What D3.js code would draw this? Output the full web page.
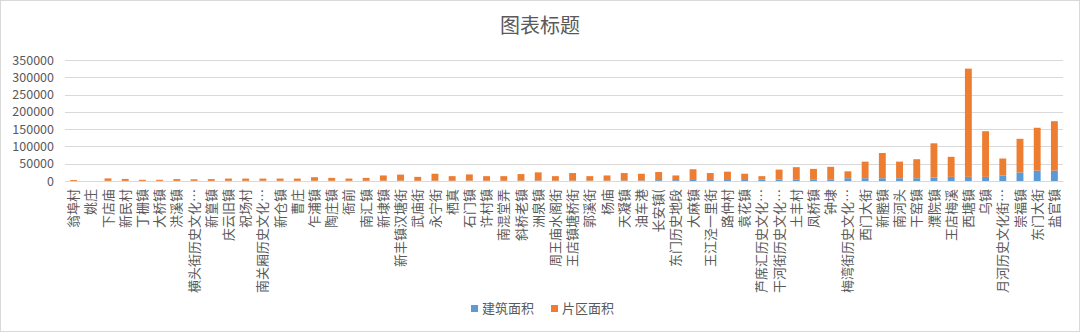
<!DOCTYPE html>
<html>
<head>
<meta charset="utf-8">
<script src="https://cdn.jsdelivr.net/npm/d3@7"></script>
<style>
  body { margin: 0; background: #fff; }
  text { font-family: "Noto Sans CJK SC", "Noto Sans", sans-serif; fill: #595959; }
</style>
</head>
<body>
<div id="chart"></div>
<script>
// category labels as shown on the axis (long ones cut off like in the original)
var places = ["翁埠村", "姚庄", "下店庙", "新民村", "丁栅镇", "大桥镇", "洪溪镇", "横头街历史文化…",
  "新篁镇", "庆云旧镇", "祝场村", "南关厢历史文化…", "新仓镇", "曹庄", "乍浦镇", "陶庄镇", "衙前",
  "南汇镇", "新埭镇", "新丰镇汉塘街", "武庙街", "永宁街", "栖真", "石门镇", "许村镇", "南混堂弄",
  "斜桥老镇", "洲泉镇", "周王庙水阁街", "王店镇塘桥街", "郭溪街", "杨庙", "天凝镇", "油车港",
  "长安镇(", "东门历史地段", "大麻镇", "王江泾一里街", "路仲村", "袁花镇", "芦席汇历史文化…",
  "干河街历史文化…", "土丰村", "凤桥镇", "钟埭", "梅湾街历史文化…", "西门大街", "新塍镇", "南河头",
  "干窑镇", "濮院镇", "王店梅溪", "西塘镇", "乌镇", "月河历史文化街…", "崇福镇", "东门大街", "盐官镇"];

// 建筑面积 (blue, bottom of the stack)
var buildArea = [300, 0, 500, 400, 300, 300, 400, 600, 400, 500, 500, 800, 500, 500, 800, 700, 500,
  700, 1000, 1000, 800, 1000, 800, 1200, 900, 800, 1200, 1500, 1000, 1200, 1000, 1000, 1500, 1500,
  2500, 2500, 3000, 3000, 3000, 3000, 3500, 4000, 5000, 5000, 5000, 8000, 8000, 8000, 8000,
  8000, 10000, 12000, 12000, 12000, 16000, 25000, 30000, 30000];

// 片区面积 (orange, on top)
var zoneArea = [2700, 0, 7000, 5600, 3200, 3200, 5100, 4400, 5100, 6500, 6500, 6200, 6500, 6500,
  10200, 8300, 6500, 8300, 15000, 17500, 11200, 20000, 13200, 17800, 13100, 13200, 18800, 23500,
  13000, 21800, 13000, 15000, 21500, 19500, 23500, 13500, 31000, 20000, 24000, 18000, 10500, 29000,
  35000, 30000, 36000, 20000, 48000, 73000, 48000, 55000, 99000, 58000, 313000, 132000, 49000,
  97000, 124000, 143000];

var yTicks = [0, 50000, 100000, 150000, 200000, 250000, 300000, 350000];
var seriesNames = ["建筑面积", "片区面积"];
var seriesColors = ["#5B9BD5", "#ED7D31"];

window.onload = function() {
  drawChart();
};

function drawChart() {
  var width = 1080, height = 332;
  var plot = { left: 65, right: 1063, top: 60, bottom: 181 };

  var svg = d3.select("#chart").append("svg")
    .attr("width", width)
    .attr("height", height);

  // outer frame
  svg.append("rect")
    .attr("x", 0.5).attr("y", 0.5)
    .attr("width", width - 1).attr("height", height - 1)
    .style("fill", "#fff")
    .style("stroke", "#d9d9d9");

  var xScale = d3.scaleBand()
    .domain(places)
    .range([plot.left, plot.right])
    .paddingInner(0.6)
    .paddingOuter(0.3);

  var yScale = d3.scaleLinear()
    .domain([0, 350000])
    .range([plot.bottom, plot.top]);

  // grid lines
  svg.append("g").selectAll("line")
    .data(yTicks)
    .enter()
    .append("line")
    .attr("x1", plot.left).attr("x2", plot.right)
    .attr("y1", function(d){ return Math.round(yScale(d)) + 0.5 })
    .attr("y2", function(d){ return Math.round(yScale(d)) + 0.5 })
    .style("stroke", "#d9d9d9")
    .style("stroke-width", 1);

  // y axis labels, plain numbers without separators
  var yAxis = d3.axisLeft(yScale).tickValues(yTicks).tickFormat(d3.format("d"))
    .tickSize(0).tickPadding(0);
  var gy = svg.append("g")
    .attr("transform", "translate(54,0)")
    .call(yAxis);
  gy.select(".domain").remove();
  gy.selectAll("text")
    .style("font-size", "12.5px")
    .style("fill", "#595959")
    .style("font-family", "'Noto Sans CJK SC', sans-serif");

  // stack the two series
  var rows = places.map(function(p, i){ return { name: p, b: buildArea[i], z: zoneArea[i] } });
  var stacked = d3.stack().keys(["b", "z"])(rows);

  svg.append("g").selectAll("g")
    .data(stacked)
    .enter()
    .append("g")
    .style("fill", function(d, i){ return seriesColors[i] })
    .selectAll("rect")
    .data(function(d){ return d })
    .enter()
    .append("rect")
    .attr("x", function(d){ return xScale(d.data.name) })
    .attr("width", xScale.bandwidth())
    .attr("y", function(d){ return yScale(d[1]) })
    .attr("height", function(d){ return Math.max(0, yScale(d[0]) - yScale(d[1])) });

  // x axis, labels rotated like excel
  var xAxis = d3.axisBottom(xScale).tickSize(0).tickPadding(0);
  var gx = svg.append("g")
    .attr("transform", "translate(0," + plot.bottom + ")")
    .call(xAxis);
  gx.select(".domain")
    .style("stroke", "#d9d9d9");
  gx.selectAll("text")
    .attr("transform", "translate(0,8) rotate(-90)")
    .attr("x", 0).attr("y", 0).attr("dy", "0.35em")
    .style("text-anchor", "end")
    .style("font-size", "13px")
    .style("fill", "#595959")
    .style("font-family", "'Noto Sans CJK SC', sans-serif");

  // title
  svg.append("text")
    .attr("x", width / 2)
    .attr("y", 26)
    .attr("dy", "0.35em")
    .style("text-anchor", "middle")
    .style("font-size", "20px")
    .text("图表标题");

  // legend
  var legendX = [471, 551];
  var legend = svg.append("g").selectAll("g")
    .data(seriesNames)
    .enter()
    .append("g")
    .attr("transform", function(d, i){ return "translate(" + legendX[i] + ",305)" });
  legend.append("rect")
    .attr("width", 7).attr("height", 7)
    .style("fill", function(d, i){ return seriesColors[i] });
  legend.append("text")
    .attr("x", 11).attr("y", 3.5).attr("dy", "0.35em")
    .style("font-size", "13px")
    .text(function(d){ return d });
}
</script>
</body>
</html>
